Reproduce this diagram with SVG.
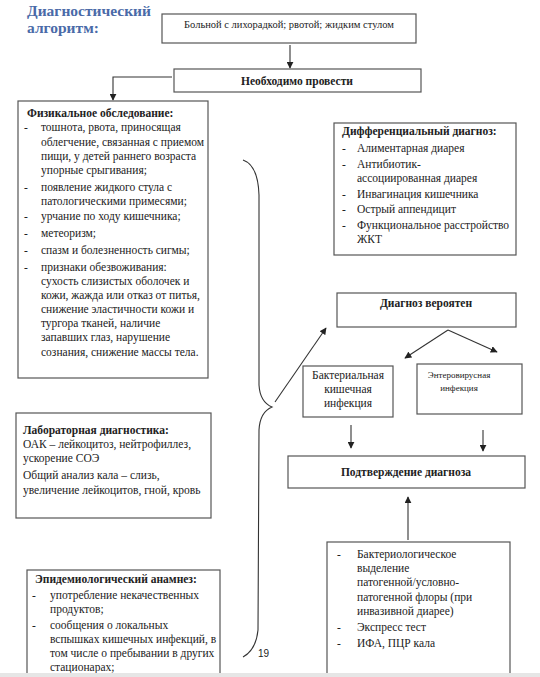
<svg xmlns="http://www.w3.org/2000/svg" width="540" height="677" viewBox="0 0 540 677" font-family="'Liberation Serif', 'Times New Roman', serif">
<style>
.box{fill:#fff;stroke:#555;stroke-width:1.2}
text{font-family:'Liberation Serif','Times New Roman',serif;font-size:11.5px;fill:#222}
.b{font-weight:bold}
.c{text-anchor:middle}
.t{font-size:15.5px;font-weight:bold;fill:#4a6aa8}
.s{font-size:9px}
.p{font-family:'Liberation Sans',Arial,sans-serif;font-size:10px}
.ln{fill:none;stroke:#333;stroke-width:1.1}
</style>
<defs>
<marker id="ah" viewBox="0 0 10 10" refX="9" refY="5" markerWidth="7" markerHeight="7" orient="auto" markerUnits="userSpaceOnUse">
<path d="M0,0 L10,5 L0,10 z" fill="#222"/>
</marker>
</defs>
<rect width="540" height="677" fill="#fff"/>
<text class="t" x="27" y="16">Диагностический</text>
<text class="t" x="27" y="33">алгоритм:</text>

<g id="connectors">
<line class="ln" x1="290" y1="45" x2="290" y2="68" marker-end="url(#ah)"/>
<polyline class="ln" points="172,77 113,77 113,100" marker-end="url(#ah)"/>
<path class="ln" d="M243,160 Q258,165 259,195 L259,385 Q260,402 272,407 Q260,412 259,430 L258,630 Q256,650 243,657"/>
<line class="ln" x1="275" y1="402" x2="326" y2="328" marker-end="url(#ah)"/>
<line class="ln" x1="448" y1="330" x2="405" y2="358" marker-end="url(#ah)"/>
<line class="ln" x1="448" y1="330" x2="497" y2="352" marker-end="url(#ah)"/>
<line class="ln" x1="351" y1="425" x2="351" y2="448" marker-end="url(#ah)"/>
<line class="ln" x1="483" y1="430" x2="483" y2="451" marker-end="url(#ah)"/>
<line class="ln" x1="408" y1="540" x2="408" y2="497" marker-end="url(#ah)"/>
</g>

<g id="n1">
<rect class="box" x="162" y="14" width="254" height="29"/>
<text class="c" x="289" y="28" style="font-size:10.5px">Больной с лихорадкой; рвотой; жидким стулом</text>
</g>
<g id="n2">
<rect class="box" x="174" y="69" width="247" height="23"/>
<text class="c b" x="297" y="85">Необходимо провести</text>
</g>
<g id="n3">
<rect class="box" x="18" y="101" width="190" height="277"/>
<text class="b" x="27" y="117">Физикальное обследование:</text>
<text x="24" y="131">-</text><text x="41" y="131">тошнота, рвота, приносящая</text>
<text x="41" y="146">облегчение, связанная с приемом</text>
<text x="41" y="160">пищи, у детей раннего возраста</text>
<text x="41" y="174">упорные срыгивания;</text>
<text x="24" y="191">-</text><text x="41" y="191">появление жидкого стула с</text>
<text x="41" y="205">патологическими примесями;</text>
<text x="24" y="220">-</text><text x="41" y="220">урчание по ходу кишечника;</text>
<text x="24" y="237">-</text><text x="41" y="237">метеоризм;</text>
<text x="24" y="254">-</text><text x="41" y="254">спазм и болезненность сигмы;</text>
<text x="24" y="271">-</text><text x="41" y="271">признаки обезвоживания:</text>
<text x="41" y="285">сухость слизистых оболочек и</text>
<text x="41" y="299">кожи, жажда или отказ от питья,</text>
<text x="41" y="313">снижение эластичности кожи и</text>
<text x="41" y="327">тургора тканей, наличие</text>
<text x="41" y="341">запавших глаз, нарушение</text>
<text x="41" y="356">сознания, снижение массы тела.</text>
</g>
<g id="n4">
<rect class="box" x="334" y="123" width="182" height="132"/>
<text class="b" x="342" y="135">Дифференциальный диагноз:</text>
<text x="342" y="152">-</text><text x="357" y="152">Алиментарная диарея</text>
<text x="342" y="168">-</text><text x="357" y="168">Антибиотик-</text>
<text x="357" y="182">ассоциированная диарея</text>
<text x="342" y="198">-</text><text x="357" y="198">Инвагинация кишечника</text>
<text x="342" y="213">-</text><text x="357" y="213">Острый аппендицит</text>
<text x="342" y="229">-</text><text x="357" y="229">Функциональное расстройство</text>
<text x="357" y="243">ЖКТ</text>
</g>
<g id="n5">
<rect class="box" x="337" y="293" width="179" height="34"/>
<text class="c b" x="426" y="307">Диагноз вероятен</text>
</g>
<g id="n6">
<rect class="box" x="303" y="366" width="90" height="51"/>
<text class="c" x="348" y="379">Бактериальная</text>
<text class="c" x="348" y="393">кишечная</text>
<text class="c" x="348" y="407">инфекция</text>
</g>
<g id="n7">
<rect class="box" x="417" y="364" width="105" height="50"/>
<text class="c s" x="459" y="378">Энтеровирусная</text>
<text class="c s" x="459" y="391">инфекция</text>
</g>
<g id="n8">
<rect class="box" x="288" y="456" width="237" height="32"/>
<text class="c b" x="406" y="476">Подтверждение диагноза</text>
</g>
<g id="n9">
<rect class="box" x="327" y="542" width="183" height="140"/>
<text x="337" y="558">-</text><text x="357" y="558">Бактериологическое</text>
<text x="357" y="572">выделение</text>
<text x="357" y="586">патогенной/условно-</text>
<text x="357" y="601">патогенной флоры (при</text>
<text x="357" y="615">инвазивной диарее)</text>
<text x="337" y="631">-</text><text x="357" y="631">Экспресс тест</text>
<text x="337" y="647">-</text><text x="357" y="647">ИФА, ПЦР кала</text>
</g>
<g id="n10">
<rect class="box" x="16" y="413" width="195" height="105"/>
<text class="b" x="23" y="434">Лабораторная диагностика:</text>
<text x="23" y="448">ОАК – лейкоцитоз, нейтрофиллез,</text>
<text x="23" y="462">ускорение СОЭ</text>
<text x="23" y="479">Общий анализ кала – слизь,</text>
<text x="23" y="494">увеличение лейкоцитов, гной, кровь</text>
</g>
<g id="n11">
<rect class="box" x="27" y="570" width="193" height="112"/>
<text class="b" x="35" y="583">Эпидемиологический анамнез:</text>
<text x="32" y="599">-</text><text x="50" y="599">употребление некачественных</text>
<text x="50" y="613">продуктов;</text>
<text x="32" y="629">-</text><text x="50" y="629">сообщения о локальных</text>
<text x="50" y="643">вспышках кишечных инфекций, в</text>
<text x="50" y="657">том числе о пребывании в других</text>
<text x="50" y="671">стационарах;</text>
</g>
<text class="p" x="258" y="657">19</text>
<rect x="0" y="673" width="540" height="4" fill="#e6e6e6"/>
</svg>
